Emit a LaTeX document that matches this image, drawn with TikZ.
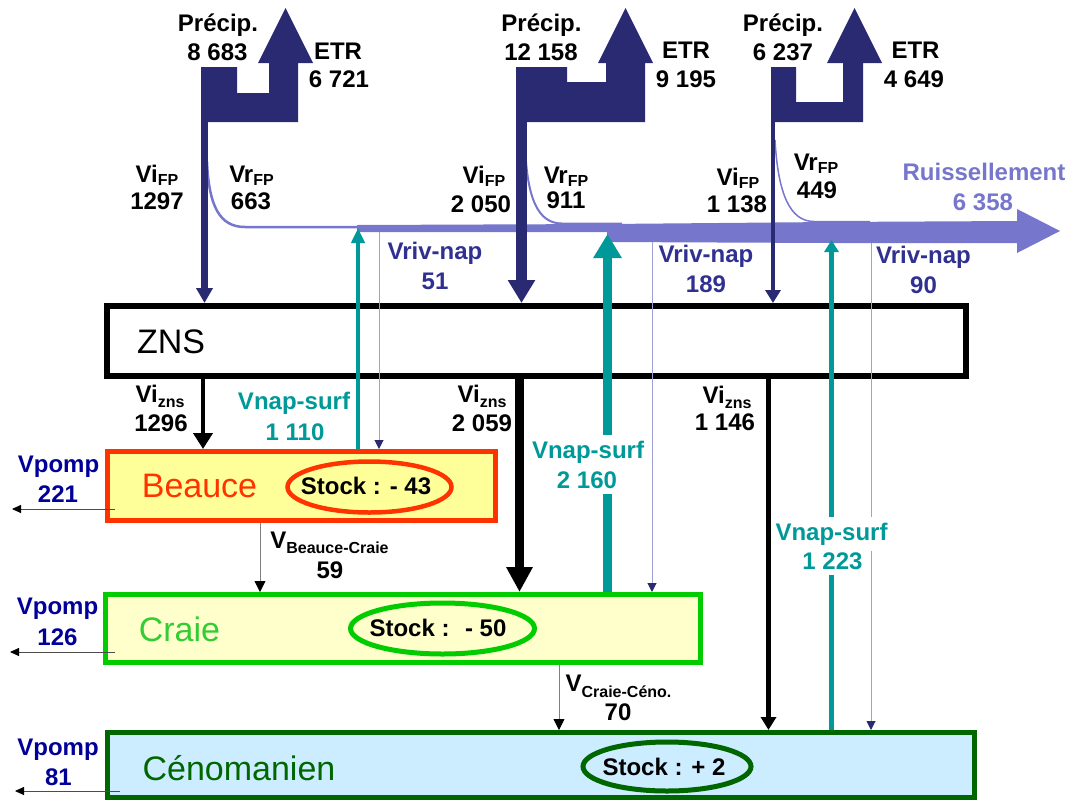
\documentclass[tikz,border=0pt]{standalone}
\usepackage{fontspec}
\setmainfont{Liberation Sans}
\usetikzlibrary{arrows.meta}
\definecolor{navyA}{RGB}{42,42,114}
\definecolor{runoff}{RGB}{118,118,204}
\definecolor{thinp}{RGB}{160,160,210}
\definecolor{rivtxt}{RGB}{48,48,145}
\definecolor{tealc}{RGB}{0,153,153}
\definecolor{pompc}{RGB}{0,0,153}
\definecolor{beaucec}{RGB}{255,51,0}
\definecolor{beaucef}{RGB}{255,255,153}
\definecolor{craiec}{RGB}{0,204,0}
\definecolor{craiet}{RGB}{51,204,51}
\definecolor{craief}{RGB}{255,255,204}
\definecolor{cenoc}{RGB}{0,102,0}
\definecolor{cenof}{RGB}{204,236,255}
\newcommand\withsub[3]{#1\raisebox{-#3pt}{\fontsize{16}{18}\selectfont #2}}
\tikzset{
  lab/.style={font=\fontsize{24}{29}\selectfont\bfseries, anchor=base, inner sep=0pt},
  bigname/.style={font=\fontsize{34}{40}\selectfont, anchor=base, inner sep=0pt},
  aquifer/.style={line width=5pt, inner sep=0pt},
  runcurve/.style={runoff, line cap=butt},
  thinriv/.style={thinp, line width=1pt, -{Triangle[length=9pt,width=9pt,color=navyA]}},
  pompar/.style={black!70, line width=0.8pt, -{Triangle[length=9pt,width=8pt,color=black]}},
  interar/.style={black!50, line width=0.8pt, -{Triangle[length=11pt,width=11pt,color=black]}},
  cover/.style={fill=white, inner xsep=2pt, inner ysep=6pt}
}
\begin{document}
\begin{tikzpicture}[x=1pt,y=-1pt]
\useasboundingbox (0,0) rectangle (1071,801);

% boxes
\node[draw=black, line width=6pt, fill=white, minimum width=859pt, minimum height=69.5pt, inner sep=0pt] (zns) at (536.5,340.75) {};
\node[aquifer, draw=beaucec, fill=beaucef, minimum width=388pt, minimum height=69pt] (beauce) at (301.5,486) {};
\node[aquifer, draw=craiec, fill=craief, minimum width=595pt, minimum height=68pt] (craie) at (403,628.5) {};
\node[aquifer, draw=cenoc, fill=cenof, minimum width=867pt, minimum height=65pt] (ceno) at (541,765) {};

\node[bigname] (znsT) at (171,353) {ZNS};
\node[bigname, text=beaucec] (beauceT) at (199.5,497) {Beauce};
\node[bigname, text=craiet] (craieT) at (179.5,641) {Craie};
\node[bigname, text=cenoc] (cenoT) at (239,780) {Cénomanien};

% stocks
\draw[beaucec, line width=4.5pt] (369.5,487) ellipse [x radius=82, y radius=25.5];
\node[lab] (stB) at (366,494) {Stock : - 43};
\draw[craiec, line width=5pt] (442.5,628.5) ellipse [x radius=92, y radius=25.5];
\node[lab] (stC) at (438,636) {Stock : \ - 50};
\draw[cenoc, line width=5pt] (667,766.5) ellipse [x radius=84, y radius=24.5];
\node[lab] (stN) at (664,775) {Stock : + 2};

% runoff band
\fill[runoff] (357,225) -- (607,224) -- (830,222) -- (1017,221) -- (1017,209) -- (1060,231)
  -- (1017,253) -- (1017,243) -- (830,243) -- (607,242) -- (607,232) -- (357,232) -- cycle;
\draw[runcurve, line width=2.5pt] (207,162) .. controls (209,207) and (220,227) .. (245,227) -- (358,227);
\draw[runcurve, line width=2pt] (525,145) .. controls (527,199) and (538,223.5) .. (562,223.5) -- (622,223.5);
\draw[runcurve, line width=1.5pt] (775,140) .. controls (778,194) and (790,221.5) .. (814,221.5) -- (870,221.5);

% Vriv-nap thin lines
\coordinate (r1) at (379,232);
\coordinate (r2) at (652,242);
\coordinate (r3) at (871,243);
\draw[thinriv] (r1) -- (r1 |- beauce.north);
\draw[thinriv] (r2) -- (r2 |- craie.north);
\draw[thinriv] (r3) -- (r3 |- ceno.north);

% Vnap-surf teal arrows
\coordinate (t1) at (358,228);
\coordinate (t2) at (607.5,234);
\coordinate (t3) at (831.5,240);
\draw[tealc, line width=4pt, -{Triangle[length=15pt,width=13pt]}] (t1 |- beauce.north) -- (t1);
\draw[tealc, line width=9pt, -{Triangle[length=24pt,width=27pt]}] (t2 |- craie.north) -- (t2);
\draw[tealc, line width=5pt, -{Triangle[length=12pt,width=14pt]}] (t3 |- ceno.north) -- (t3);

% Vi_zns black arrows
\coordinate (b1) at (203,378);
\coordinate (b2) at (519.5,378);
\coordinate (b3) at (768.5,378);
\draw[black, line width=4pt, -{Triangle[length=16pt,width=19pt]}] (b1 |- zns.south) -- (b1 |- beauce.north);
\draw[black, line width=9pt, -{Triangle[length=25pt,width=25pt]}] (b2 |- zns.south) -- (b2 |- craie.north);
\draw[black, line width=5pt, -{Triangle[length=13pt,width=15pt]}] (b3 |- zns.south) -- (b3 |- ceno.north);

% precipitation / ETR shapes
\fill[navyA] (201,67) -- (237,67) -- (237,93) -- (269,93) -- (269,63) -- (258,63) -- (285.5,8) -- (313,63)
  -- (298,63) -- (298,122) -- (201,122) -- cycle;
\fill[navyA] (516,67) -- (567,67) -- (567,82) -- (606,82) -- (606,63) -- (598,63) -- (625.5,8) -- (653,63)
  -- (645,63) -- (645,122) -- (516,122) -- cycle;
\fill[navyA] (771,67) -- (796,67) -- (796,102) -- (843,102) -- (843,63) -- (827,63) -- (854.5,8) -- (882,63)
  -- (863,63) -- (863,122) -- (771,122) -- cycle;
\coordinate (p1) at (204.5,121);
\coordinate (p2) at (521.5,121);
\coordinate (p3) at (773,121);
\draw[navyA, line width=7.5pt, -{Triangle[length=15pt,width=16pt]}] (p1) -- (p1 |- zns.north);
\draw[navyA, line width=11pt, -{Triangle[length=23pt,width=26pt]}] (p2) -- (p2 |- zns.north);
\draw[navyA, line width=4pt, -{Triangle[length=13pt,width=15pt]}] (p3) -- (p3 |- zns.north);

% pumping arrows
\coordinate (q1a) at (115,509); \coordinate (q1b) at (12,509);
\coordinate (q2a) at (115,652); \coordinate (q2b) at (10,652);
\coordinate (q3a) at (120,791); \coordinate (q3b) at (15,791);
\draw[pompar] (q1a) -- (q1b);
\draw[pompar] (q2a) -- (q2b);
\draw[pompar] (q3a) -- (q3b);

% inter-aquifer arrows
\coordinate (bc) at (260,523);
\coordinate (cc) at (559,665);
\draw[interar] (bc |- beauce.south) -- (bc |- craie.north);
\draw[interar] (cc |- craie.south) -- (cc |- ceno.north);

% top labels
\node[lab] (pr1) at (218,31.5) {Précip.};
\node[lab] (pr1v) at (217.5,60) {8 683};
\node[lab] (et1) at (338,59) {ETR};
\node[lab] (et1v) at (339,87) {6 721};
\node[lab] (pr2) at (541.5,31.5) {Précip.};
\node[lab] (pr2v) at (541,60) {12 158};
\node[lab] (et2) at (686,58.5) {ETR};
\node[lab] (et2v) at (686,87) {9 195};
\node[lab] (pr3) at (783,31.5) {Précip.};
\node[lab] (pr3v) at (783,60) {6 237};
\node[lab] (et3) at (915.5,58.5) {ETR};
\node[lab] (et3v) at (914,87) {4 649};

% Vi_FP / Vr_FP
\node[lab] (vi1) at (157,182) {\withsub{Vi}{FP}{3}};
\node[lab] (vi1v) at (157,209) {1297};
\node[lab] (vr1) at (251.5,182) {\withsub{Vr}{FP}{3}};
\node[lab] (vr1v) at (251,209) {663};
\node[lab] (vi2) at (484,183) {\withsub{Vi}{FP}{3}};
\node[lab] (vi2v) at (481,212) {2 050};
\node[lab] (vr2) at (566,183) {\withsub{Vr}{FP}{3}};
\node[lab] (vr2v) at (566,208) {911};
\node[lab] (vi3) at (738,185) {\withsub{Vi}{FP}{3}};
\node[lab] (vi3v) at (737,212) {1 138};
\node[lab] (vr3) at (816,170) {\withsub{Vr}{FP}{3}};
\node[lab] (vr3v) at (817,198) {449};
\node[lab, text=runoff] (ru) at (984,180) {Ruissellement};
\node[lab, text=runoff] (ruv) at (983,210) {6 358};

% Vriv-nap labels
\node[lab, text=rivtxt] (rv1) at (435,259) {Vriv-nap};
\node[lab, text=rivtxt] (rv1v) at (435,289) {51};
\node[lab, text=rivtxt] (rv2) at (706,262) {Vriv-nap};
\node[lab, text=rivtxt] (rv2v) at (706,292) {189};
\node[lab, text=rivtxt] (rv3) at (923.5,263) {Vriv-nap};
\node[lab, text=rivtxt] (rv3v) at (923.5,293) {90};

% Vi_zns labels
\node[lab] (vz1) at (160,402) {\withsub{Vi}{zns}{5}};
\node[lab] (vz1v) at (161,431) {1296};
\node[lab] (vz2) at (482,402) {\withsub{Vi}{zns}{5}};
\node[lab] (vz2v) at (482,431) {2 059};
\node[lab] (vz3) at (727,403) {\withsub{Vi}{zns}{5}};
\node[lab] (vz3v) at (725,430) {1 146};

% Vnap-surf labels
\node[lab, text=tealc] (ns1) at (294,409) {Vnap-surf};
\node[lab, text=tealc] (ns1v) at (295,440) {1 110};
\node[lab, cover, text=tealc] (ns2) at (588,458) {Vnap-surf};
\node[lab, cover, text=tealc] (ns2v) at (587,488) {2 160};
\node[lab, cover, text=tealc] (ns3) at (831.5,540) {Vnap-surf};
\node[lab, cover, text=tealc] (ns3v) at (832.5,569) {1 223};

% Vpomp labels
\node[lab, text=pompc] (vp1) at (58.5,472) {Vpomp};
\node[lab, text=pompc] (vp1v) at (58,502) {221};
\node[lab, text=pompc] (vp2) at (57.5,614) {Vpomp};
\node[lab, text=pompc] (vp2v) at (57.5,645) {126};
\node[lab, text=pompc] (vp3) at (58,755) {Vpomp};
\node[lab, text=pompc] (vp3v) at (58.5,785) {81};

% inter-aquifer labels
\node[lab] (vbc) at (329.5,548) {\withsub{V}{Beauce-Craie}{5}};
\node[lab] (vbcv) at (330,578) {59};
\node[lab] (vcc) at (618.5,691) {\withsub{V}{Craie-Céno.}{6}};
\node[lab] (vccv) at (618,720) {70};
\end{tikzpicture}
\end{document}
